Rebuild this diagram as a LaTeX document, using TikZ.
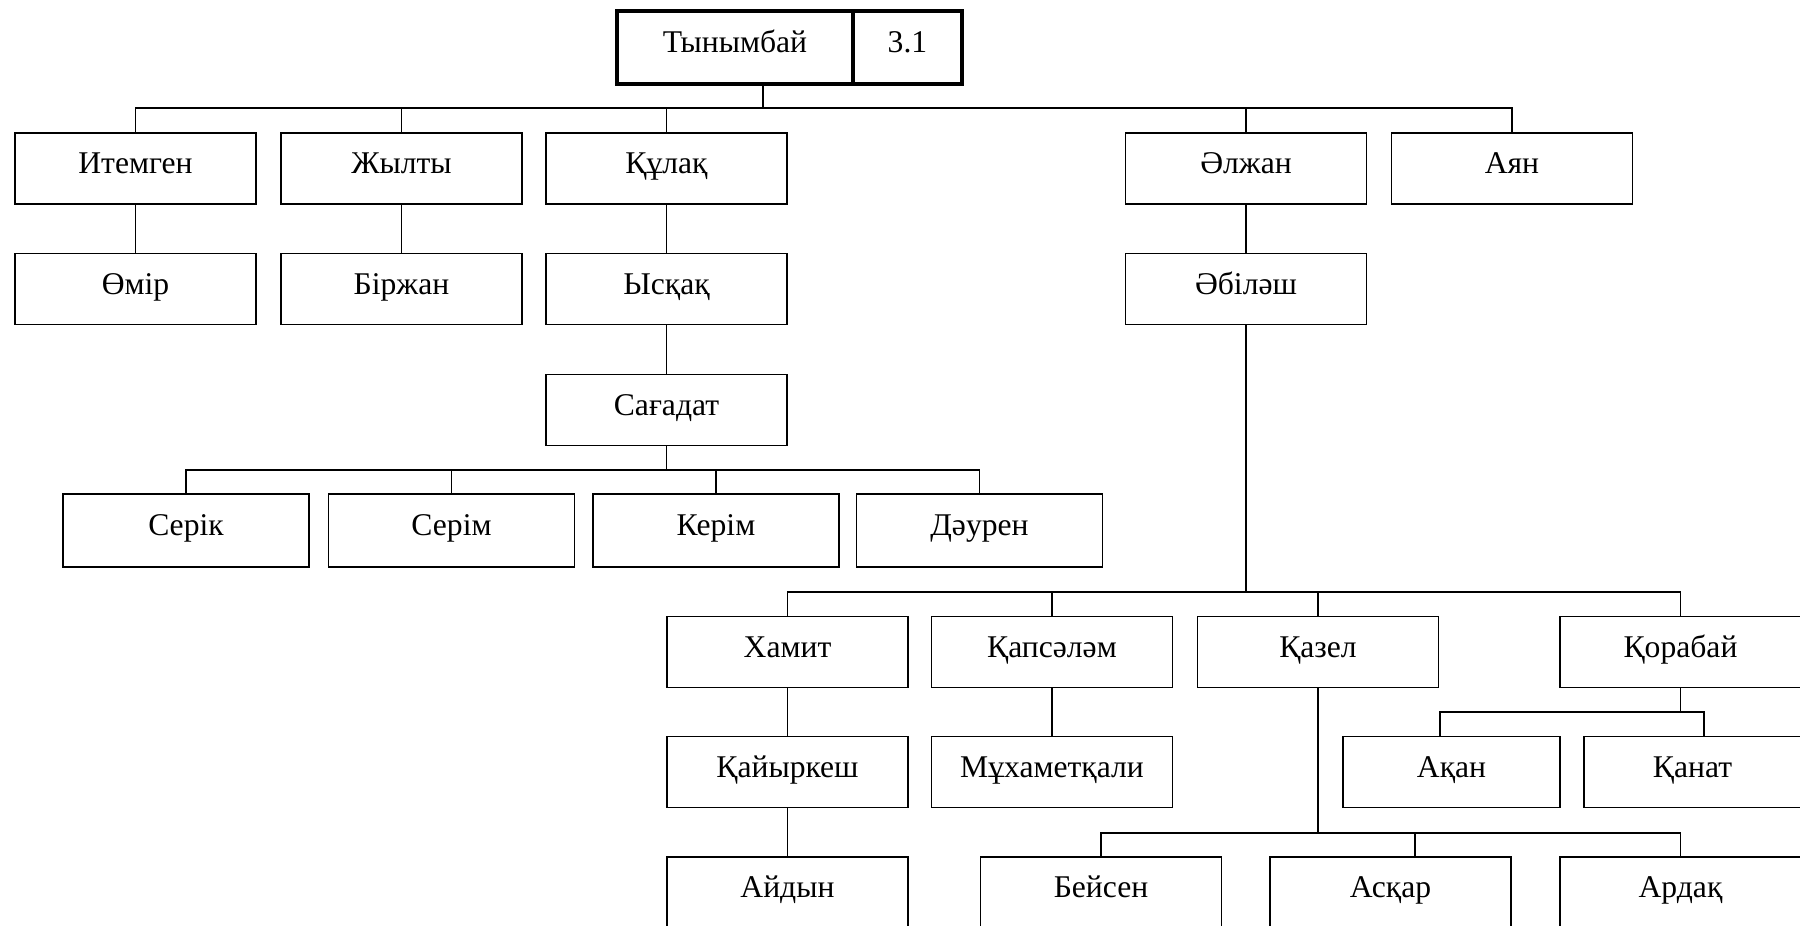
\documentclass[tikz,border=0pt]{standalone}
\usepackage{fontspec}
\setmainfont{Liberation Serif}
\usepackage{tikz}

\begin{document}
\begin{tikzpicture}[
  x=0.02cm, y=-0.02cm,
  person/.style={rectangle, draw, line width=0.9pt, minimum width=4.82cm, minimum height=1.42cm, inner sep=0pt, text height=10.6pt, text depth=4.4pt, font=\fontsize{18}{20}\selectfont},
  rootbox/.style={person, line width=2.3pt, minimum height=1.46cm},
  link/.style={draw, line width=0.9pt}
]
  \useasboundingbox (0,0) rectangle (1800,926);

  % Root
  \node[rootbox, minimum width=4.72cm] (rootname) at (735,47.5) {Тынымбай};
  \node[rootbox, minimum width=2.18cm] (rootnum) at (907.5,47.5) {3.1};

  % Sons
  \node[person] (itemgen) at (135.5,168.5) {Итемген};
  \node[person] (zhylty) at (401.5,168.5) {Жылты};
  \node[person] (qulaq) at (666.5,168.5) {Құлақ};
  \node[person] (alzhan) at (1246,168.5) {Әлжан};
  \node[person] (ayan) at (1512,168.5) {Аян};

  \node[person] (omir) at (135.5,289) {Өмір};
  \node[person] (birzhan) at (401.5,289) {Біржан};
  \node[person] (yskaq) at (666.5,289) {Ысқақ};
  \node[person] (abilash) at (1246,289) {Әбіләш};

  \node[person] (sagadat) at (666.5,410) {Сағадат};

  % Sagadat's sons
  \node[person, minimum width=4.92cm, minimum height=1.46cm] (serik) at (186,530.5) {Серік};
  \node[person, minimum width=4.92cm, minimum height=1.46cm] (serim) at (451.5,530.5) {Серім};
  \node[person, minimum width=4.92cm, minimum height=1.46cm] (kerim) at (716,530.5) {Керім};
  \node[person, minimum width=4.92cm, minimum height=1.46cm] (dauren) at (979.5,530.5) {Дәурен};

  % Abilash's sons
  \node[person] (khamit) at (787.5,652) {Хамит};
  \node[person] (qapsalam) at (1052,652) {Қапсәләм};
  \node[person] (qazel) at (1318,652) {Қазел};
  \node[person] (qorabai) at (1680.5,652) {Қорабай};

  \node[person] (qaiyrkesh) at (787.5,772) {Қайыркеш};
  \node[person] (mukhametqali) at (1052,772) {Мұхаметқали};
  \node[person, minimum width=4.34cm] (akan) at (1451.5,772) {Ақан};
  \node[person, minimum width=4.34cm] (qanat) at (1692.5,772) {Қанат};

  \node[person] (aidyn) at (787.5,892.5) {Айдын};
  \node[person] (beisen) at (1101,892.5) {Бейсен};
  \node[person] (asqar) at (1390.5,892.5) {Асқар};
  \node[person] (ardaq) at (1680.5,892.5) {Ардақ};

  % Buses
  \coordinate (topbus) at (763,108);
  \coordinate (sagbus) at (666.5,470);
  \coordinate (abbus) at (1246,592);
  \coordinate (qorL) at (1440,712);
  \coordinate (qorR) at (1704,712);
  \coordinate (qazbus) at (1318,833);
  \coordinate (asqbus) at (1415,833);

  % Links
  \draw[link] (rootname.south -| topbus) -- (topbus);
  \draw[link] (itemgen.north) |- (ayan.north |- topbus) -- (ayan.north);
  \foreach \n in {zhylty, qulaq, alzhan}
    \draw[link] (\n.north) -- (\n.north |- topbus);

  \draw[link] (itemgen) -- (omir);
  \draw[link] (zhylty) -- (birzhan);
  \draw[link] (qulaq) -- (yskaq);
  \draw[link] (yskaq) -- (sagadat);
  \draw[link] (alzhan) -- (abilash);

  \draw[link] (sagadat.south) -- (sagbus);
  \draw[link] (serik.north) |- (dauren.north |- sagbus) -- (dauren.north);
  \foreach \n in {serim, kerim}
    \draw[link] (\n.north) -- (\n.north |- sagbus);

  \draw[link] (abilash.south) -- (abbus);
  \draw[link] (khamit.north) |- (qorabai.north |- abbus) -- (qorabai.north);
  \foreach \n in {qapsalam, qazel}
    \draw[link] (\n.north) -- (\n.north |- abbus);

  \draw[link] (khamit) -- (qaiyrkesh);
  \draw[link] (qaiyrkesh) -- (aidyn);
  \draw[link] (qapsalam) -- (mukhametqali);

  \draw[link] (qorabai.south) -- (qorabai.south |- qorL);
  \draw[link] (akan.north -| qorL) |- (qorR) -- (qanat.north -| qorR);

  \draw[link] (qazel.south) -- (qazbus);
  \draw[link] (beisen.north) |- (ardaq.north |- qazbus) -- (ardaq.north);
  \draw[link] (asqar.north -| asqbus) -- (asqbus);
\end{tikzpicture}
\end{document}
